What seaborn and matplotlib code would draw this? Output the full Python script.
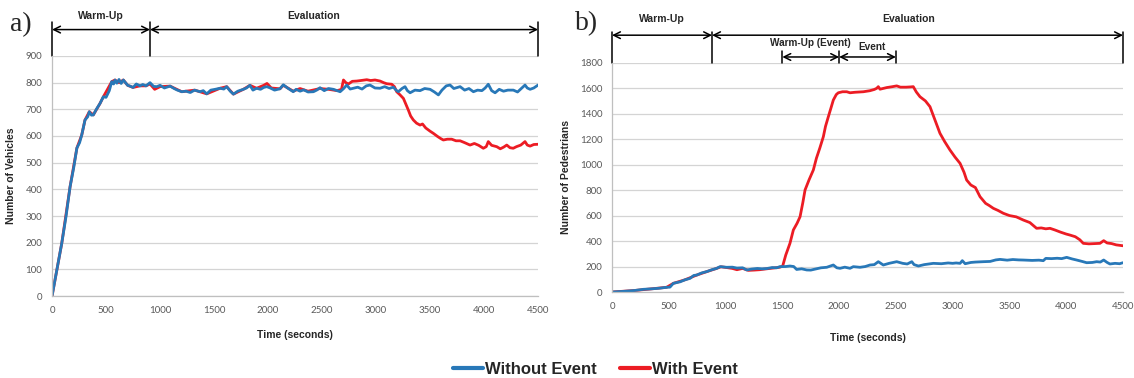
import pandas as pd
import seaborn as sns
import matplotlib.pyplot as plt
from matplotlib.lines import Line2D
from matplotlib.ticker import MultipleLocator

# ==========================================
# 1. DATA
# ==========================================
series_names = ['Without Event', 'With Event']

# a) vehicles, without event
veh_time_base = [0, 45, 90, 130, 167, 200, 230, 255, 275, 305, 330, 345, 365, 382, 410, 444, 475, 500,
                 530, 553, 570, 583, 600, 620, 640, 660, 680, 700, 722, 750, 780, 815, 840, 870, 907,
                 940, 970, 1000, 1040, 1093, 1130, 1160, 1201, 1240, 1280, 1320, 1370, 1400, 1432,
                 1470, 1510, 1556, 1590, 1617, 1650, 1679, 1720, 1771, 1800, 1832, 1860, 1894, 1930,
                 1960, 1988, 2020, 2060, 2110, 2141, 2180, 2233, 2260, 2296, 2330, 2370, 2420, 2450,
                 2481, 2520, 2560, 2605, 2640, 2667, 2700, 2728, 2760, 2790, 2830, 2870, 2910, 2944,
                 2990, 3037, 3080, 3120, 3160, 3185, 3206, 3240, 3268, 3290, 3315, 3360, 3407, 3450,
                 3500, 3540, 3577, 3610, 3650, 3685, 3720, 3778, 3820, 3860, 3901, 3940, 3980, 4010,
                 4039, 4070, 4102, 4140, 4180, 4220, 4271, 4310, 4345, 4379, 4400, 4426, 4460, 4500]
veh_base = [0, 100, 198, 300, 410, 480, 555, 575, 604, 660, 672, 691, 678, 679, 700, 722, 747, 745,
            770, 804, 795, 810, 798, 812, 797, 810, 800, 790, 787, 782, 795, 788, 793, 788, 800,
            786, 785, 790, 780, 787, 778, 772, 766, 768, 763, 772, 766, 770, 758,
            772, 775, 779, 776, 785, 768, 757, 768, 775, 780, 790, 772, 779, 775,
            782, 785, 780, 772, 777, 792, 780, 766, 775, 768, 773, 765, 766, 772,
            781, 770, 778, 775, 770, 766, 778, 791, 776, 779, 783, 776, 788, 791,
            780, 779, 785, 778, 783, 772, 766, 778, 785, 770, 762, 772, 770, 778,
            775, 765, 754, 772, 788, 791, 778, 785, 772, 778, 766, 772, 770, 780,
            794, 770, 762, 775, 768, 772, 772, 765, 778, 791, 780, 775, 780, 791]

# a) vehicles, with event
veh_time_event = [0, 90, 167, 230, 275, 305, 345, 382, 444, 475, 553, 583, 620, 660, 700, 750, 815,
                  870, 907, 950, 1000, 1093, 1201, 1320, 1432, 1556, 1617, 1679, 1771, 1832, 1894,
                  1960, 1990, 2030, 2110, 2141, 2233, 2296, 2370, 2481, 2560, 2640, 2680, 2698, 2720,
                  2744, 2780, 2821, 2860, 2914, 2950, 2990, 3037, 3070, 3098, 3145, 3170, 3191, 3220,
                  3253, 3275, 3299, 3320, 3345, 3375, 3407, 3430, 3460, 3500, 3530, 3570, 3600, 3623,
                  3660, 3700, 3740, 3778, 3820, 3870, 3910, 3950, 3993, 4020, 4039, 4070, 4117, 4150,
                  4180, 4210, 4240, 4270, 4300, 4340, 4379, 4400, 4426, 4460, 4500]
veh_event = [0, 198, 410, 555, 604, 660, 691, 679, 722, 747, 804, 810, 800, 810, 790, 782, 788,
             788, 795, 775, 785, 787, 766, 772, 758, 779, 785, 757, 775, 790, 779,
             790, 797, 780, 777, 790, 768, 778, 768, 778, 775, 770, 775, 810, 800,
             795, 805, 806, 808, 811, 808, 810, 806, 800, 796, 794, 785, 766, 755,
             741, 720, 697, 675, 660, 648, 641, 645, 630, 618, 610, 598, 590, 585,
             588, 588, 582, 582, 575, 566, 572, 565, 554, 560, 579, 565, 560, 552,
             558, 566, 556, 554, 560, 566, 579, 566, 562, 568, 569]

# b) pedestrians, without event
ped_time_base = [0, 100, 200, 276, 350, 420, 481, 510, 540, 600, 640, 687, 720, 746, 790, 834, 880,
                 920, 951, 1010, 1060, 1100, 1150, 1186, 1230, 1280, 1320, 1362, 1410, 1450, 1479,
                 1530, 1567, 1600, 1626, 1670, 1715, 1750, 1790, 1840, 1891, 1949, 1980, 2008, 2050,
                 2096, 2125, 2184, 2230, 2272, 2310, 2345, 2389, 2440, 2507, 2560, 2600, 2640, 2660,
                 2698, 2750, 2830, 2900, 2960, 3000, 3030, 3065, 3085, 3110, 3160, 3200, 3270, 3330,
                 3380, 3417, 3480, 3530, 3580, 3622, 3700, 3760, 3798, 3820, 3870, 3920, 3960, 4004,
                 4050, 4092, 4140, 4180, 4230, 4268, 4300, 4330, 4360, 4385, 4430, 4470, 4500]
ped_base = [0, 5, 12, 21, 25, 30, 37, 38, 68, 80, 95, 107, 130, 133, 150, 160, 175,
            185, 199, 194, 195, 188, 190, 173, 180, 185, 182, 184, 192, 190, 199,
            200, 204, 200, 177, 182, 173, 172, 180, 190, 194, 212, 190, 186, 195,
            186, 199, 194, 200, 212, 215, 238, 212, 225, 238, 225, 220, 238, 215,
            204, 215, 225, 222, 228, 225, 228, 225, 246, 222, 232, 235, 238, 240,
            252, 256, 250, 255, 252, 251, 248, 250, 246, 264, 262, 265, 262, 272,
            260, 251, 240, 230, 232, 238, 235, 251, 232, 220, 225, 222, 230]

# b) pedestrians, with event
ped_time_event = [0, 200, 350, 481, 540, 640, 746, 834, 920, 960, 1010, 1060, 1100, 1150, 1200, 1250,
                  1300, 1362, 1420, 1479, 1503, 1530, 1567, 1597, 1630, 1656, 1680, 1700, 1735, 1773,
                  1800, 1830, 1861, 1880, 1905, 1930, 1949, 1975, 1993, 2030, 2067, 2096, 2140, 2213,
                  2270, 2310, 2331, 2345, 2360, 2420, 2470, 2507, 2540, 2590, 2630, 2653, 2680, 2712,
                  2760, 2800, 2840, 2888, 2930, 2976, 3020, 3065, 3100, 3123, 3160, 3200, 3241, 3290,
                  3320, 3358, 3400, 3446, 3500, 3560, 3622, 3680, 3739, 3780, 3820, 3857, 3900, 3950,
                  4000, 4033, 4080, 4120, 4150, 4200, 4250, 4297, 4330, 4360, 4400, 4440, 4500]
ped_event = [0, 12, 25, 37, 68, 95, 133, 160, 185, 198, 192, 185, 175, 185, 170, 172,
             175, 182, 188, 195, 204, 290, 382, 487, 540, 591, 700, 801, 880, 958,
             1050, 1130, 1219, 1300, 1376, 1450, 1507, 1550, 1564, 1572, 1572, 1564, 1568, 1572,
             1580, 1590, 1599, 1612, 1592, 1605, 1612, 1618, 1608, 1608, 1610, 1612, 1570, 1533,
             1500, 1455, 1360, 1246, 1180, 1115, 1060, 1010, 940, 879, 840, 820, 748, 696,
             680, 657, 640, 618, 600, 590, 565, 545, 500, 503, 496, 500, 487, 470,
             455, 447, 434, 410, 382, 378, 380, 382, 403, 385, 380, 370, 363]


def long_table(t_base, v_base, t_event, v_event):
    return pd.concat([
        pd.DataFrame({'time': t_base, 'value': v_base, 'serie': series_names[0]}),
        pd.DataFrame({'time': t_event, 'value': v_event, 'serie': series_names[1]}),
    ], ignore_index=True)


df_veh = long_table(veh_time_base, veh_base, veh_time_event, veh_event)
df_ped = long_table(ped_time_base, ped_base, ped_time_event, ped_event)

# ==========================================
# 2. STYLE
# ==========================================
sns.set_style("white")
plt.rcParams['font.family'] = ['Liberation Sans', 'DejaVu Sans']

cores = {series_names[0]: '#2878b8', series_names[1]: '#ec1c24'}
cinza = '#bfbfbf'

fig = plt.figure(figsize=(11.34, 3.78), dpi=100)
ax1 = fig.add_axes([0.0459, 0.2169, 0.4286, 0.635])
ax2 = fig.add_axes([0.5397, 0.2275, 0.4506, 0.6066])

paineis = [
    (ax1, df_veh, 900, 100, 'Number of Vehicles', -0.074, -0.142),
    (ax2, df_ped, 1800, 200, 'Number of Pedestrians', -0.080, -0.179),
]

for ax, df, ymax, ystep, ylabel, ylab_x, xlab_y in paineis:
    # red first, blue on top (as in the original)
    sns.lineplot(data=df, x='time', y='value', hue='serie',
                 hue_order=[series_names[1], series_names[0]], palette=cores,
                 estimator=None, sort=True, linewidth=2.0, legend=False, ax=ax)
    ax.set_xlim(0, 4500)
    ax.set_ylim(0, ymax)
    ax.xaxis.set_major_locator(MultipleLocator(500))
    ax.xaxis.set_minor_locator(MultipleLocator(100))
    ax.yaxis.set_major_locator(MultipleLocator(ystep))
    ax.yaxis.grid(True, color='#d4d4d4', linewidth=0.9)
    ax.set_axisbelow(True)
    for lado in ['top', 'right']:
        ax.spines[lado].set_visible(False)
    for lado in ['left', 'bottom']:
        ax.spines[lado].set_color(cinza)
        ax.spines[lado].set_linewidth(0.9)
    ax.tick_params(axis='x', which='both', direction='inout', length=5, color=cinza,
                   labelsize=7, labelcolor='#595959', pad=5)
    ax.tick_params(axis='y', length=0, labelsize=7, labelcolor='#595959', pad=7)
    for lab in ax.get_xticklabels() + ax.get_yticklabels():
        lab.set_family('Lato')
    ax.set_xlabel('Time (seconds)', fontsize=7.5, fontweight='bold')
    ax.set_ylabel(ylabel, fontsize=7.5, fontweight='bold')
    ax.xaxis.set_label_coords(0.5, xlab_y)
    ax.yaxis.set_label_coords(ylab_x, 0.5)


# ==========================================
# 3. PHASE ANNOTATIONS (above the axes)
# ==========================================
def fase(ax, x0, x1, y_seta, y_txt, texto, dx_txt=0.0, tam=7.5):
    tr = ax.get_xaxis_transform()
    ax.annotate('', xy=(x0, y_seta), xytext=(x1, y_seta), xycoords=tr, textcoords=tr,
                arrowprops=dict(arrowstyle='<->', color='black', lw=1.1,
                                shrinkA=0, shrinkB=0, mutation_scale=12),
                annotation_clip=False)
    ax.text((x0 + x1) / 2 + dx_txt, y_txt, texto, transform=tr, ha='center', va='center',
            fontsize=tam, fontweight='bold', clip_on=False)


def marco(ax, x, y_topo):
    ax.plot([x, x], [1.0, y_topo], transform=ax.get_xaxis_transform(),
            color='black', lw=1.1, clip_on=False)


for x in [0, 907, 4500]:
    marco(ax1, x, 1.14)
fase(ax1, 0, 907, 1.11, 1.165, 'Warm-Up')
fase(ax1, 907, 4500, 1.11, 1.165, 'Evaluation', dx_txt=-280)

for x in [0, 881, 4500]:
    marco(ax2, x, 1.135)
for x in [1500, 2000, 2500]:
    marco(ax2, x, 1.05)
fase(ax2, 0, 881, 1.12, 1.19, 'Warm-Up')
fase(ax2, 881, 4500, 1.12, 1.19, 'Evaluation', dx_txt=-80)
fase(ax2, 1500, 2000, 1.025, 1.088, 'Warm-Up (Event)', dx_txt=-5, tam=7.2)
fase(ax2, 2000, 2500, 1.025, 1.068, 'Event', dx_txt=40, tam=7.2)

fig.text(21 / 1134, 1 - 25 / 378, 'a)', family='Liberation Serif', fontsize=20,
         ha='center', va='center')
fig.text(587 / 1134, 1 - 24 / 378, 'b)', family='Liberation Serif', fontsize=20,
         ha='center', va='center')

# ==========================================
# 4. LEGEND
# ==========================================
handles = [Line2D([], [], color=cores[n], lw=3) for n in series_names]
fig.legend(handles, series_names, loc='center', bbox_to_anchor=(0.525, 0.022), ncol=2,
           frameon=False, prop={'weight': 'bold', 'size': 12}, handlelength=1.8,
           handletextpad=0.1, columnspacing=1.4, borderaxespad=0)

plt.savefig('out.png', dpi=100)
